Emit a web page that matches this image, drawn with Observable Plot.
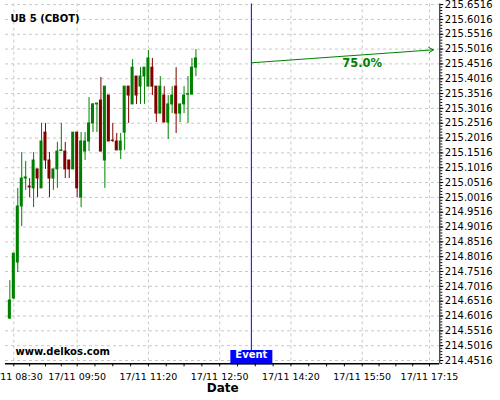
<!DOCTYPE html>
<html><head><meta charset="utf-8">
<script src="https://cdn.jsdelivr.net/npm/d3@7"></script>
<script src="https://cdn.jsdelivr.net/npm/@observablehq/plot@0.6"></script>
<style>html,body{margin:0;padding:0;background:#fff} svg{display:block}</style>
</head><body><div id="chart"></div>
<script>
// ---- data ----
const title = "UB 5 (CBOT)";
const watermark = "www.delkos.com";
const axisTitle = "Date";
const dayLabel = "17/11";
const times = ["08:25","08:30","08:35","08:40","08:45","08:50","08:55","09:00","09:05","09:10","09:15","09:20","09:25","09:30","09:35","09:40","09:45","09:50","09:55","10:00","10:05","10:10","10:15","10:20","10:25","10:30","10:35","10:40","10:45","10:50","10:55","11:00","11:05","11:10","11:15","11:20","11:25","11:30","11:35","11:40","11:45","11:50","11:55","12:00","12:05","12:10","12:15","12:20"];
const open  = [214.593,214.661,214.782,214.971,215.065,215.038,215.032,215.096,215.032,215.220,215.126,215.065,215.096,215.158,215.156,215.126,215.096,215.220,215.001,215.156,215.190,215.251,215.315,215.328,215.126,215.345,215.193,215.190,215.160,215.220,215.375,215.315,215.409,215.375,215.409,215.375,215.439,215.375,215.284,215.345,215.254,215.315,215.375,215.284,215.315,215.348,215.348,215.439];
const high  = [214.721,214.812,215.032,215.153,215.123,215.065,215.153,215.096,215.251,215.251,215.153,215.096,215.187,215.251,215.187,215.126,215.220,215.220,215.220,215.220,215.338,215.318,215.318,215.406,215.375,215.345,215.251,215.217,215.217,215.375,215.375,215.466,215.409,215.439,215.409,215.497,215.470,215.375,215.409,215.375,215.345,215.375,215.439,215.315,215.375,215.409,215.470,215.500];
const low   = [214.590,214.657,214.748,214.903,215.025,215.001,214.967,215.001,215.032,215.096,215.001,215.025,215.032,215.156,215.065,215.065,215.096,215.001,214.967,215.126,215.156,215.220,215.220,215.156,215.032,215.190,215.187,215.160,215.129,215.160,215.251,215.315,215.315,215.315,215.315,215.375,215.345,215.254,215.284,215.254,215.197,215.284,215.217,215.254,215.284,215.251,215.348,215.409];
const close = [214.654,214.812,214.971,215.065,215.069,215.035,215.126,215.065,215.190,215.126,215.065,215.096,215.156,215.160,215.096,215.096,215.220,215.032,215.190,215.190,215.251,215.315,215.318,215.156,215.375,215.190,215.192,215.160,215.190,215.375,215.345,215.439,215.345,215.409,215.439,215.470,215.375,215.284,215.375,215.254,215.315,215.345,215.284,215.315,215.345,215.350,215.439,215.470];
const xTickTimes = ["08:30","09:50","11:20","12:50","14:20","15:50","17:15"];
const yTicks = [214.4516,214.5016,214.5516,214.6016,214.6516,214.7016,214.7516,214.8016,214.8516,214.9016,214.9516,215.0016,215.0516,215.1016,215.1516,215.2016,215.2516,215.3016,215.3516,215.4016,215.4516,215.5016,215.5516,215.6016,215.6516];
const eventTime = "13:30";
const eventLabel = "Event";
const forecastTimes = ["13:30","17:20"];
const forecastPrices = [215.4553, 215.4992];
const forecastLabel = "75.0%";
const forecastLabelTime = "15:50";
const forecastLabelPrice = 215.452;

// ---- build ----
const upColor = "#008000", downColor = "#800000";
const T = (s, sec = 0) => { const [h, m] = s.split(":").map(Number); return new Date(Date.UTC(2015, 10, 17, h, m, sec)); };
const candles = times.map((t, i) => ({date: T(t), open: open[i], high: high[i], low: low[i], close: close[i]}));
const colorOf = d => d.close >= d.open ? upColor : downColor;
const halfW = 1.9 * 60000;
const xDomain = [T("08:19", 30), T("17:28")];
const yDomain = [214.4405, 215.6536];
const xMajor = xTickTimes.map(s => T(s));
const xMinor = [];
for (let i = 0; i < xMajor.length - 1; i++) {
  for (let k = 1; k < 4; k++) xMinor.push(new Date(+xMajor[i] + (xMajor[i+1] - xMajor[i]) * k / 4));
}
const yMinor = d3.range(214.4416, 215.6536, 0.01);
const eventDate = T(eventTime);
const arrowData = [{t1: T(forecastTimes[0]), p1: forecastPrices[0], t2: T(forecastTimes[1]), p2: forecastPrices[1]}];
const fmt = d3.utcFormat("%H:%M");

const mT = 3.5, mB = 36.7, H = 400;
const chart = Plot.plot({
  width: 500, height: H,
  marginLeft: 5, marginRight: 60.7, marginTop: mT, marginBottom: mB,
  style: {fontFamily: "DejaVu Sans", fontSize: "10px", background: "#fff", color: "#000"},
  x: {type: "utc", domain: xDomain},
  y: {domain: yDomain, label: null},
  color: {type: "identity"},
  marks: [
    Plot.ruleY(yTicks, {stroke: "#c8c8c8", strokeDasharray: "3,3"}),
    Plot.ruleX(xMajor, {stroke: "#c8c8c8", strokeDasharray: "3,3"}),
    Plot.ruleX(candles, {x: "date", y1: "low", y2: "high", stroke: colorOf, strokeWidth: 1}),
    Plot.rect(candles, {x1: d => new Date(+d.date - halfW), x2: d => new Date(+d.date + halfW),
      y1: d => Math.min(d.open, d.close), y2: d => Math.max(d.open, d.close), fill: colorOf,
      insetTop: -0.5, insetBottom: -0.5}),
    Plot.ruleX([eventDate], {stroke: "#0000ff", strokeWidth: 1}),
    Plot.ruleX([eventDate], {stroke: "#0000ff", strokeWidth: 42, insetTop: H - mT - mB - 13.3, insetBottom: -1}),
    Plot.text([eventLabel], {x: () => eventDate, frameAnchor: "bottom", dy: -6, text: d => d,
      fill: "#fff", fontWeight: "bold", fontSize: 10}),
    Plot.arrow(arrowData, {x1: "t1", y1: "p1", x2: "t2", y2: "p2", stroke: upColor, strokeWidth: 1, headLength: 8}),
    Plot.text([forecastLabel], {x: () => T(forecastLabelTime), y: () => forecastLabelPrice, text: d => d,
      fill: upColor, fontWeight: "bold", fontSize: 11.5}),
    Plot.ruleY([yDomain[0]], {stroke: "#000", strokeWidth: 1.5}),
    Plot.ruleX([xDomain[1]], {stroke: "#000", strokeWidth: 1}),
    Plot.axisY(yTicks, {anchor: "right", tickSize: 3, tickPadding: 2, tickFormat: d => d.toFixed(4), fontSize: 10, label: null}),
    Plot.axisY(yMinor, {anchor: "right", tickSize: 2, tickFormat: () => "", label: null}),
    Plot.axisX(xMajor, {anchor: "bottom", tickSize: 3, tickPadding: 6, tickFormat: d => dayLabel + " " + fmt(d), fontSize: 9.5, label: null}),
    Plot.axisX(xMinor, {anchor: "bottom", tickSize: 3, tickFormat: () => "", label: null}),
    Plot.text([title], {frameAnchor: "top-left", dx: 5, dy: 10.5, text: d => d, fontWeight: "bold", fontSize: 10, textAnchor: "start"}),
    Plot.text([watermark], {frameAnchor: "bottom-left", dx: 10, dy: -9, text: d => d, fontWeight: "bold", fontSize: 10, textAnchor: "start"}),
    Plot.text([axisTitle], {frameAnchor: "bottom", dy: 28, text: d => d, fontWeight: "bold", fontSize: 12})
  ]
});
document.getElementById("chart").appendChild(chart);
</script>
</body></html>
